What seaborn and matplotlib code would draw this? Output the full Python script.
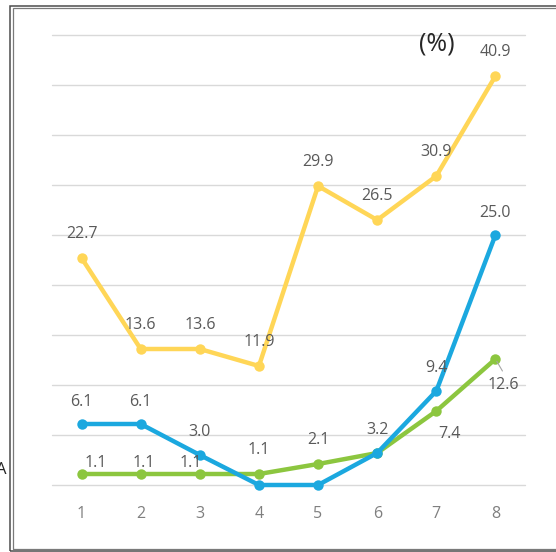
import pandas as pd
import seaborn as sns
import matplotlib.pyplot as plt
from matplotlib.patches import Rectangle

# values
x_vals = [1, 2, 3, 4, 5, 6, 7, 8]
yellow_vals = [22.7, 13.6, 13.6, 11.9, 29.9, 26.5, 30.9, 40.9]
green_vals = [1.1, 1.1, 1.1, 1.1, 2.1, 3.2, 7.4, 12.6]
blue_vals = [6.1, 6.1, 3.0, 0.0, 0.0, 3.2, 9.4, 25.0]
series_names = ["yellow", "green", "blue"]
unit_label = "(%)"

colors = {"yellow": "#FFD657", "green": "#8CC63F", "blue": "#1BA8DF"}

df = pd.DataFrame({
    "x": x_vals * 3,
    "value": yellow_vals + green_vals + blue_vals,
    "series": [s for s in series_names for _ in x_vals],
})

sns.set_theme(style="white")
plt.rcParams["font.family"] = ["Open Sans", "DejaVu Sans"]

fig = plt.figure(figsize=(5.56, 5.52), dpi=100)
ax = fig.add_axes([52 / 556, 1 - 485 / 552, 473 / 556, 450 / 552])

sns.lineplot(data=df, x="x", y="value", hue="series", hue_order=series_names,
             palette=colors, marker="o", markersize=7.5, markeredgewidth=0,
             linewidth=3.2, legend=False, ax=ax)
for ln in ax.lines:
    ln.set_clip_on(False)
    ln.set_solid_joinstyle("round")
    ln.set_zorder(3)

ax.set_xlim(0.5, 8.5)
ax.set_ylim(0, 45)
ax.set_yticks(range(0, 46, 5))
ax.set_yticklabels([])
ax.set_xticks(x_vals)
ax.set_xticklabels([str(v) for v in x_vals], color="#7f7f7f", fontsize=11.5)
ax.tick_params(axis="x", length=0, pad=15)
ax.tick_params(axis="y", length=0)
ax.set_xlabel("")
ax.set_ylabel("")
ax.grid(axis="y", color="#d9d9d9", linewidth=1)
ax.set_axisbelow(True)
for gl in ax.yaxis.get_gridlines():
    gl.set_clip_on(False)
for sp in ax.spines.values():
    sp.set_visible(False)

# data labels: offsets in pixels from each point (None = no label)
yellow_off = [(0, 24)] * 8
blue_off = [(0, 22), (0, 22), (0, 23), None, None, (0, 23), (0, 23), (0, 22)]
green_off = [(14, 11), (3, 11), (-9, 11), (0, 24), (0, 24), None, (13, -23), (8, -26)]

label_kw = dict(textcoords="offset pixels", ha="center", va="center",
                fontsize=11.5, color="#595959", zorder=4)
for vals, offs in [(yellow_vals, yellow_off), (blue_vals, blue_off), (green_vals, green_off)]:
    for xv, yv, off in zip(x_vals, vals, offs):
        if off is None:
            continue
        ax.annotate(f"{yv:.1f}", (xv, yv), xytext=off, **label_kw)

# small leader line for the last green label
ax.annotate("", (x_vals[-1], green_vals[-1]), xytext=(7, -12),
            textcoords="offset pixels",
            arrowprops=dict(arrowstyle="-", color="#a6a6a6", lw=0.8,
                            shrinkA=0, shrinkB=2))

fig.text(437 / 556, 1 - 44 / 552, unit_label, ha="center", va="center",
         fontsize=18, color="#262626")
fig.text(-4 / 556, 1 - 470 / 552, "A", ha="left", va="center",
         fontsize=12, color="#262626")

# double frame around the chart
fig.add_artist(Rectangle((10 / 556, 1 - 551.3 / 552), 560 / 556, 545.6 / 552,
                         transform=fig.transFigure, fill=False,
                         edgecolor="#4d4d4d", linewidth=1.1))
fig.add_artist(Rectangle((12.7 / 556, 1 - 548.7 / 552), 560 / 556, 540.4 / 552,
                         transform=fig.transFigure, fill=False,
                         edgecolor="#7a7a7a", linewidth=0.9))

fig.savefig("out.png", dpi=100)
